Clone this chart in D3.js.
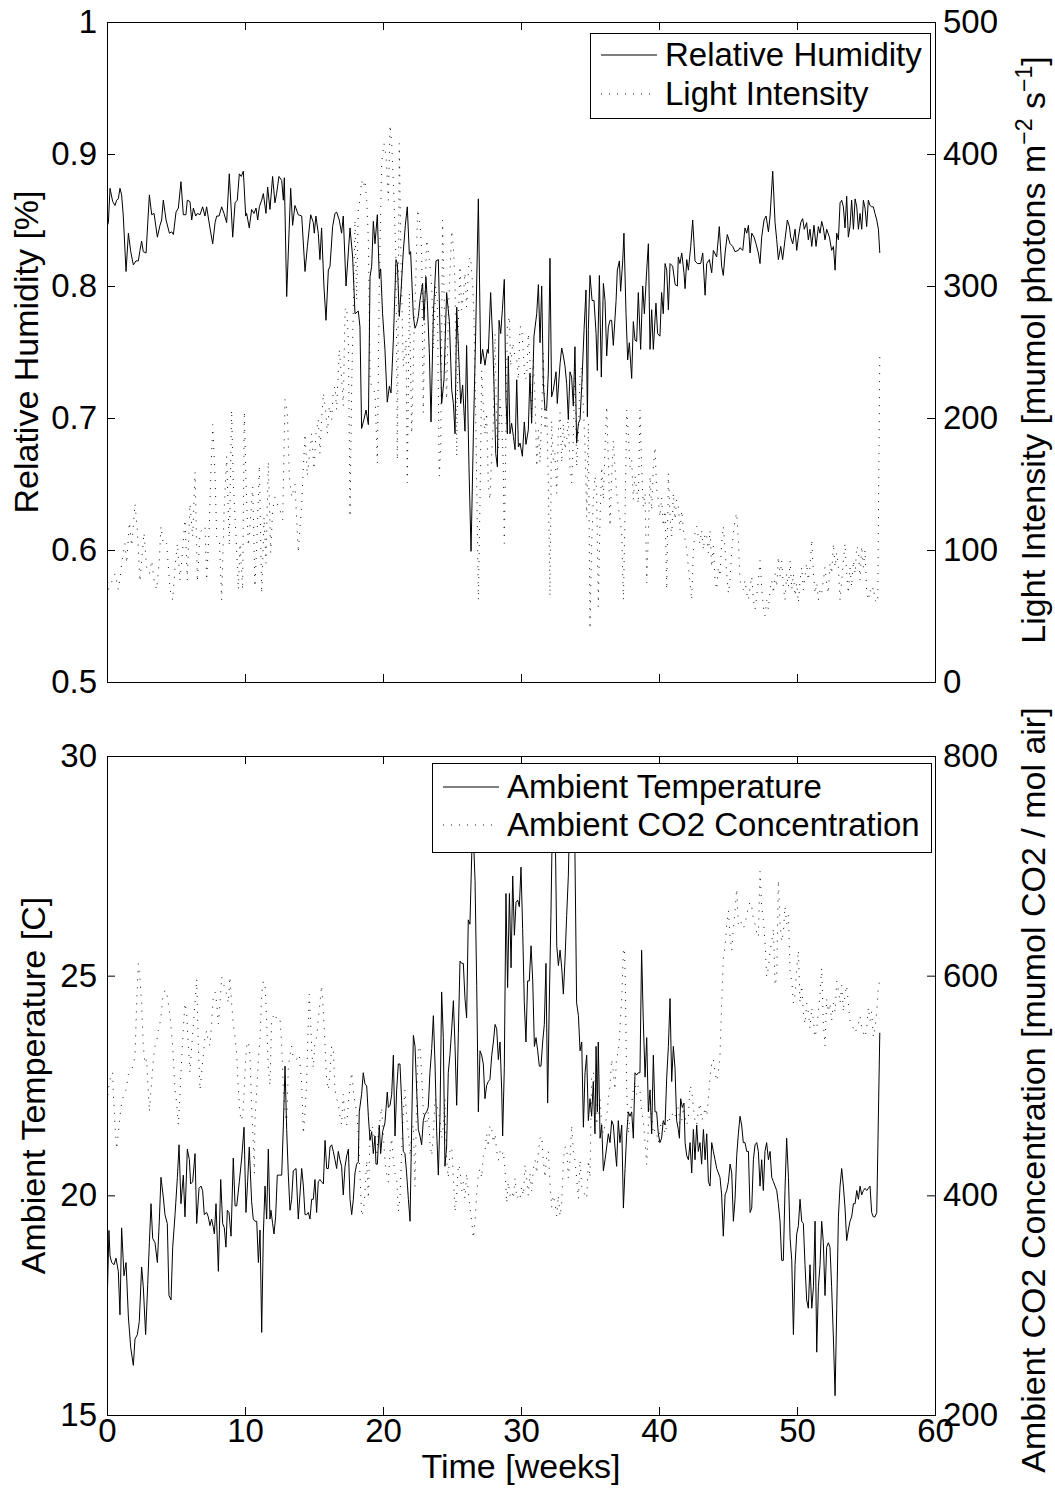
<!DOCTYPE html>
<html>
<head>
<meta charset="utf-8">
<script src="https://cdn.jsdelivr.net/npm/d3@7"></script>
<style>
  body { margin: 0; background: #fff; }
</style>
</head>
<body>
<script>
// values: [week, value]
const humidity = [
[0,0.845],[0.1,0.848],[0.22,0.874],[0.41,0.864],[0.58,0.861],[0.7,0.865],[0.82,0.866],[0.94,0.874],[1.06,0.869],[1.18,0.853],[1.38,0.811],[1.55,0.84],[1.72,0.826],[1.91,0.816],[2.1,0.819],[2.27,0.819],[2.39,0.827],[2.51,0.834],[2.63,0.826],[2.83,0.825],[3.07,0.869],[3.24,0.854],[3.41,0.855],[3.65,0.837],[3.84,0.846],[3.96,0.85],[4.08,0.865],[4.28,0.85],[4.52,0.84],[4.69,0.841],[4.81,0.839],[5,0.856],[5.17,0.859],[5.36,0.879],[5.53,0.854],[5.72,0.854],[5.82,0.865],[6.01,0.864],[6.14,0.85],[6.26,0.859],[6.43,0.853],[6.55,0.855],[6.74,0.854],[6.93,0.86],[7.1,0.853],[7.22,0.86],[7.46,0.844],[7.66,0.832],[7.83,0.848],[7.95,0.853],[8.12,0.853],[8.31,0.86],[8.48,0.855],[8.67,0.848],[8.86,0.885],[9.11,0.837],[9.28,0.863],[9.44,0.865],[9.59,0.885],[9.73,0.883],[9.88,0.887],[10.05,0.853],[10.12,0.855],[10.31,0.844],[10.48,0.858],[10.65,0.855],[10.8,0.859],[10.92,0.85],[11.04,0.86],[11.21,0.865],[11.33,0.87],[11.52,0.855],[11.64,0.875],[11.81,0.858],[12,0.883],[12.17,0.863],[12.29,0.87],[12.46,0.883],[12.66,0.88],[12.78,0.865],[12.85,0.882],[13.02,0.792],[13.31,0.874],[13.45,0.846],[13.62,0.861],[13.86,0.854],
[14.11,0.853],[14.35,0.811],[14.52,0.83],[14.76,0.854],[14.95,0.848],[15.02,0.84],[15.14,0.853],[15.31,0.84],[15.43,0.82],[15.55,0.844],[15.72,0.8],[15.87,0.774],[16.04,0.812],[16.16,0.815],[16.35,0.845],[16.52,0.855],[16.64,0.856],[16.83,0.85],[17,0.84],[17.12,0.853],[17.32,0.8],[17.61,0.844],[17.8,0.822],[17.97,0.779],[18.21,0.781],[18.33,0.769],[18.45,0.692],[18.62,0.699],[18.77,0.706],[18.94,0.695],[19.06,0.807],[19.18,0.815],[19.3,0.849],[19.42,0.832],[19.59,0.854],[19.73,0.806],[19.83,0.813],[19.97,0.779],[20.14,0.752],[20.31,0.712],[20.46,0.724],[20.58,0.719],[20.75,0.759],[20.94,0.82],[21.04,0.817],[21.18,0.777],[21.3,0.795],[21.47,0.826],[21.62,0.846],[21.76,0.86],[21.91,0.824],[22,0.826],[22.2,0.777],[22.32,0.768],[22.44,0.771],[22.56,0.777],[22.68,0.789],[22.87,0.802],[22.97,0.774],[23.11,0.807],[23.21,0.789],[23.36,0.749],[23.48,0.697],[23.65,0.779],[23.84,0.819],[24.01,0.82],[24.13,0.767],[24.25,0.711],[24.42,0.729],[24.61,0.795],[24.81,0.773],[24.98,0.721],[25.1,0.711],[25.22,0.688],[25.34,0.784],[25.46,0.754],[25.63,0.711],[25.77,0.725],[25.94,0.69],[26.06,0.755],[26.23,0.663],[26.38,0.599],[26.55,0.688],[26.71,0.762],[26.91,0.866],[27.08,0.741],[27.22,0.752],[27.39,0.74],[27.56,0.752],
[27.63,0.749],[27.8,0.795],[27.95,0.759],[28.04,0.726],[28.17,0.673],[28.29,0.663],[28.41,0.774],[28.53,0.764],[28.65,0.782],[28.79,0.805],[28.91,0.714],[29.01,0.688],[29.08,0.747],[29.2,0.688],[29.32,0.696],[29.45,0.686],[29.57,0.676],[29.69,0.729],[29.81,0.678],[29.93,0.681],[30.1,0.671],[30.24,0.697],[30.36,0.68],[30.53,0.691],[30.65,0.734],[30.77,0.696],[30.94,0.762],[31.14,0.779],[31.26,0.801],[31.38,0.757],[31.5,0.8],[31.62,0.726],[31.74,0.706],[31.86,0.707],[31.98,0.734],[32.1,0.821],[32.22,0.716],[32.34,0.721],[32.54,0.735],[32.63,0.711],[32.83,0.741],[32.95,0.753],[33.07,0.747],[33.19,0.739],[33.31,0.726],[33.43,0.699],[33.55,0.735],[33.67,0.731],[33.79,0.709],[33.91,0.754],[34.03,0.681],[34.16,0.696],[34.28,0.699],[34.4,0.724],[34.57,0.767],[34.71,0.797],[34.81,0.701],[34.88,0.767],[35,0.808],[35.15,0.789],[35.29,0.789],[35.44,0.764],[35.53,0.736],[35.68,0.808],[35.82,0.731],[35.97,0.802],[36.09,0.789],[36.21,0.747],[36.33,0.769],[36.45,0.774],[36.57,0.774],[36.69,0.755],[36.89,0.789],[36.98,0.812],[37.13,0.819],[37.22,0.796],[37.37,0.819],[37.46,0.84],[37.61,0.779],[37.73,0.744],[37.85,0.757],[38.02,0.73],[38.14,0.773],[38.26,0.759],[38.38,0.758],[38.5,0.795],[38.67,0.752],[38.82,0.8],[38.94,0.779],[39.11,0.812],[39.23,0.832],[39.35,0.752],[39.47,0.782],[39.59,0.752],[39.78,0.787],[39.9,0.764],[40.07,0.762],[40.19,0.795],[40.31,0.779],[40.44,0.817],[40.56,0.812],[40.68,0.782],[40.8,0.817],[40.99,0.815],[41.17,0.801],[41.33,0.8],
[41.4,0.822],[41.52,0.817],[41.65,0.825],[41.81,0.81],[41.89,0.798],[42.01,0.82],[42.13,0.812],[42.3,0.83],[42.44,0.85],[42.61,0.819],[42.78,0.817],[43.02,0.817],[43.17,0.825],[43.34,0.793],[43.46,0.817],[43.65,0.82],[43.82,0.81],[43.94,0.827],[44.18,0.822],[44.37,0.845],[44.54,0.815],[44.66,0.808],[44.79,0.825],[44.95,0.839],[45.15,0.832],[45.34,0.83],[45.51,0.826],[45.75,0.827],[45.87,0.829],[46.07,0.827],[46.23,0.844],[46.36,0.84],[46.48,0.846],[46.6,0.825],[46.72,0.84],[46.89,0.837],[47.03,0.832],[47.2,0.825],[47.32,0.817],[47.44,0.837],[47.61,0.85],[47.76,0.853],[47.93,0.841],[48.05,0.853],[48.24,0.887],[48.41,0.848],[48.53,0.835],[48.65,0.82],[48.82,0.83],[48.96,0.82],[49.13,0.835],[49.3,0.85],[49.45,0.845],[49.54,0.837],[49.69,0.832],[49.86,0.843],[49.98,0.827],[50.1,0.837],[50.27,0.848],[50.41,0.851],[50.53,0.843],[50.7,0.848],[50.82,0.835],[50.94,0.843],[51.07,0.83],[51.23,0.846],[51.38,0.83],[51.55,0.845],[51.67,0.84],[51.79,0.849],[51.91,0.844],[52.03,0.835],[52.15,0.843],[52.35,0.837],[52.51,0.827],[52.64,0.83],[52.76,0.812],[52.88,0.84],[53,0.835],[53.12,0.863],[53.24,0.865],[53.36,0.86],[53.48,0.844],[53.6,0.868],[53.72,0.837],[53.84,0.845],[53.96,0.865],[54.09,0.843],[54.21,0.866],[54.33,0.86],[54.45,0.843],[54.57,0.855],[54.69,0.843],[54.81,0.865],[54.93,0.859],[55.05,0.845],[55.17,0.865],[55.29,0.861],[55.41,0.86],[55.53,0.86],[55.65,0.855],[55.78,0.85],[55.9,0.843],[56,0.825]
];

const light = [
[0,82],[0.1,70],[0.34,76],[0.58,82],[0.82,70],[0.99,82],[1.06,90],[1.3,105],[1.43,90],[1.62,121],[1.79,103],[2.03,135],[2.2,115],[2.39,76],[2.51,92],[2.68,113],[2.87,87],[3.07,82],[3.24,92],[3.41,77],[3.6,70],[3.79,92],[3.91,118],[4.08,104],[4.32,105],[4.57,70],[4.76,62],[4.93,87],[5.1,105],[5.29,77],[5.48,100],[5.65,123],[5.82,77],[6.01,135],[6.21,110],[6.38,159],[6.55,76],[6.74,113],[6.86,115],[7.1,118],[7.22,77],[7.42,120],[7.51,153],[7.66,195],[7.83,156],[7.95,110],[8.14,108],[8.31,62],[8.48,128],[8.67,171],[8.86,103],[9.03,206],[9.15,151],[9.35,110],[9.52,70],[9.64,105],[9.83,70],[9.95,205],[10.07,153],[10.24,103],[10.36,118],[10.56,148],[10.72,72],[10.85,103],[11.04,164],[11.21,67],[11.38,125],[11.52,90],[11.69,167],[11.86,98],[12,130],[12.17,140],[12.34,135],[12.54,130],[12.73,123],[12.9,214],[13.07,204],[13.21,156],[13.38,140],[13.62,150],[13.86,98],
[14.11,135],[14.23,163],[14.35,188],[14.52,156],[14.66,171],[14.83,188],[15,161],[15.14,188],[15.31,199],[15.43,173],[15.55,199],[15.68,219],[15.84,206],[15.97,188],[16.11,209],[16.28,199],[16.4,221],[16.52,224],[16.64,206],[16.83,252],[17,231],[17.12,209],[17.25,282],[17.37,284],[17.49,259],[17.61,125],[17.73,224],[17.85,284],[17.97,350],[18.09,289],[18.21,358],[18.33,365],[18.45,380],[18.57,375],[18.69,380],[18.82,365],[18.94,335],[19.06,229],[19.18,224],[19.42,219],[19.59,166],[19.73,300],[19.9,393],[20.07,408],[20.22,398],[20.39,365],[20.51,422],[20.63,408],[20.8,365],[20.94,320],[21.04,168],[21.18,408],[21.3,322],[21.47,239],[21.67,259],[21.76,151],[21.91,295],[22.08,188],[22.25,264],[22.39,310],[22.51,358],[22.68,347],[22.8,327],[22.92,204],[23.04,289],[23.16,335],[23.36,320],[23.53,300],[23.65,252],[23.82,300],[23.94,289],[24.08,156],[24.18,178],[24.32,350],[24.49,264],[24.61,214],[24.73,277],[24.85,310],[24.98,342],[25.1,330],[25.22,302],[25.34,171],[25.46,272],[25.58,315],[25.7,282],[25.82,292],[25.94,310],[26.06,284],[26.23,320],[26.35,322],[26.5,300],[26.59,277],[26.74,188],[26.91,62],[27.03,138],[27.15,236],[27.27,209],[27.39,188],[27.51,204],
[27.63,150],[27.75,138],[27.88,173],[28,198],[28.12,264],[28.24,188],[28.36,176],[28.48,214],[28.6,198],[28.72,163],[28.79,105],[28.91,188],[29.01,269],[29.16,277],[29.25,239],[29.4,257],[29.57,246],[29.69,244],[29.81,229],[29.93,269],[30.05,269],[30.17,249],[30.29,229],[30.41,231],[30.53,264],[30.65,244],[30.77,198],[30.89,244],[31.02,214],[31.14,163],[31.26,191],[31.38,166],[31.5,204],[31.62,249],[31.74,191],[31.86,209],[31.98,151],[32.1,65],[32.22,198],[32.34,168],[32.46,173],[32.59,143],[32.71,191],[32.83,204],[32.95,166],[33.07,196],[33.19,176],[33.31,183],[33.43,201],[33.55,163],[33.67,151],[33.79,183],[33.91,241],[34.03,163],[34.16,188],[34.28,234],[34.4,239],[34.52,209],[34.64,178],[34.76,125],[34.88,196],[35,40],[35.12,105],[35.24,138],[35.36,156],[35.48,146],[35.6,57],[35.73,125],[35.85,163],[35.97,138],[36.09,178],[36.21,209],[36.33,168],[36.45,118],[36.57,156],[36.69,183],[36.81,163],[36.93,143],[37.05,133],[37.17,123],[37.3,113],[37.42,62],[37.54,128],[37.66,206],[37.78,188],[37.9,163],[38.02,168],[38.14,138],[38.26,156],[38.38,146],[38.5,135],[38.62,206],[38.74,163],[38.86,133],[38.99,143],[39.11,75],[39.23,113],[39.35,156],[39.47,130],[39.59,163],[39.71,178],[39.83,146],[39.95,138],[40.07,125],[40.19,140],[40.31,118],[40.44,130],[40.56,70],[40.68,158],[40.8,125],[40.92,110],[41.04,143],[41.16,123],[41.28,138],
[41.4,133],[41.52,115],[41.65,130],[41.77,115],[41.89,108],[42.01,100],[42.13,87],[42.25,75],[42.37,62],[42.49,100],[42.61,113],[42.73,118],[42.85,110],[42.97,105],[43.09,115],[43.22,100],[43.34,113],[43.46,110],[43.58,98],[43.7,115],[43.82,87],[43.94,103],[44.06,77],[44.18,70],[44.3,87],[44.42,80],[44.54,105],[44.66,118],[44.79,100],[44.91,82],[45.03,67],[45.15,77],[45.27,100],[45.39,113],[45.51,123],[45.63,128],[45.75,108],[45.87,77],[45.99,72],[46.11,70],[46.23,77],[46.36,67],[46.48,62],[46.6,72],[46.72,80],[46.84,62],[46.96,55],[47.08,65],[47.2,77],[47.32,92],[47.44,72],[47.56,57],[47.68,50],[47.8,62],[47.93,55],[48.05,70],[48.17,77],[48.29,67],[48.41,82],[48.53,72],[48.65,95],[48.77,80],[48.89,92],[49.01,72],[49.13,62],[49.25,82],[49.38,72],[49.5,92],[49.62,70],[49.74,82],[49.86,65],[49.98,75],[50.1,60],[50.22,77],[50.34,87],[50.46,70],[50.58,80],[50.7,90],[50.82,77],[50.94,87],[51.07,108],[51.19,82],[51.31,67],[51.43,75],[51.55,62],[51.67,70],[51.79,67],[51.91,77],[52.03,87],[52.15,75],[52.27,67],[52.39,90],[52.51,82],[52.64,105],[52.76,87],[52.88,98],[53,87],[53.12,62],[53.24,77],[53.36,92],[53.48,105],[53.6,82],[53.72,67],[53.84,87],[53.96,72],[54.09,92],[54.21,82],[54.33,103],[54.45,100],[54.57,77],[54.69,103],[54.81,87],[54.93,100],[55.05,67],[55.17,62],[55.29,70],[55.41,67],[55.53,72],[55.65,62],[55.85,60],[56,248]
];

const temperature = [
[0,17.4],[0.14,19.2],[0.22,18.62],[0.34,18.47],[0.51,18.42],[0.65,18.57],[0.82,18.27],[0.94,17.28],[1.06,19.26],[1.23,18.17],[1.38,18.47],[1.55,17.23],[1.72,16.53],[1.91,16.13],[2.03,16.73],[2.2,16.83],[2.34,17.13],[2.51,18.37],[2.63,17.92],[2.8,16.83],[2.95,17.97],[3.07,18.92],[3.19,19.81],[3.31,19.02],[3.48,18.92],[3.65,18.47],[3.79,19.41],[3.91,20.41],[4.08,19.96],[4.2,19.56],[4.37,19.36],[4.49,17.72],[4.64,17.62],[4.76,18.82],[4.93,19.56],[5.1,20.41],[5.22,21.15],[5.36,19.81],[5.53,20.46],[5.65,19.51],[5.82,21.05],[5.97,20.81],[6.06,20.26],[6.21,20.31],[6.38,20.95],[6.5,19.36],[6.67,20.16],[6.81,20.21],[6.93,20.11],[7.05,19.56],[7.22,19.61],[7.34,19.51],[7.46,19.31],[7.58,19.46],[7.71,19.26],[7.78,19.12],[7.9,19.81],[8.07,18.27],[8.24,20.36],[8.38,19.36],[8.5,19.26],[8.62,18.82],[8.72,19.66],[8.84,19.61],[8.99,19.07],[9.15,20.85],[9.28,19.76],[9.4,19.76],[9.59,20.31],[9.76,20.85],[9.93,21.55],[10.07,19.61],[10.19,20.31],[10.31,21.1],[10.48,19.86],[10.6,19.46],[10.72,19.41],[10.85,19.41],[10.97,18.47],[11.09,19.21],[11.21,16.88],[11.33,19.12],[11.45,20.21],[11.57,19.46],[11.69,21.05],[11.81,19.46],[11.88,19.66],[12,19.36],[12.1,19.12],[12.22,19.51],[12.34,20.46],[12.49,20.46],[12.66,20.46],[12.78,21.6],[12.9,22.94],[13.02,21.5],[13.14,20.46],[13.26,19.66],[13.38,19.91],[13.5,20.56],[13.7,20.61],[13.86,19.46],
[14.11,20.61],[14.23,20.21],[14.35,19.56],[14.47,19.56],[14.59,19.61],[14.71,19.46],[14.83,19.91],[14.95,19.91],[15.07,20.36],[15.19,19.61],[15.31,20.31],[15.43,20.36],[15.55,20.31],[15.68,20.26],[15.8,21.25],[15.92,20.61],[16.04,20.61],[16.16,21.1],[16.28,21.15],[16.4,21],[16.52,20.81],[16.64,20.61],[16.76,21],[16.88,20.81],[17,20.66],[17.12,20.01],[17.25,20.66],[17.37,20.9],[17.49,21.05],[17.61,19.91],[17.73,19.56],[17.85,19.91],[17.97,20.51],[18.09,20.71],[18.21,20.76],[18.28,21.9],[18.45,22.3],[18.57,22.79],[18.69,22.54],[18.82,22.49],[18.94,21.8],[19.06,21.25],[19.18,21.45],[19.3,20.95],[19.42,21.35],[19.49,20.71],[19.59,20.71],[19.73,21.6],[19.83,20.95],[19.97,21.45],[20.14,21.65],[20.31,22.35],[20.39,22],[20.51,22.05],[20.63,22.3],[20.75,23.19],[20.87,21.35],[20.99,22.4],[21.11,22.99],[21.23,22.99],[21.35,22.15],[21.47,21],[21.59,20.95],[21.71,20.51],[21.84,19.91],[21.96,19.41],[22.08,21.6],[22.2,23.64],[22.32,23.39],[22.44,22.4],[22.56,21.5],[22.68,21.35],[22.8,21.15],[22.92,21.7],[23.04,21.85],[23.16,21.9],[23.28,22],[23.4,22.79],[23.53,23.34],[23.65,24.09],[23.77,22.99],[23.89,21.45],[24.01,20.46],[24.13,21.8],[24.25,24.63],[24.37,23.59],[24.49,20.66],[24.61,21.1],[24.73,22.79],[24.85,23.19],[24.98,23.79],[25.1,24.43],[25.22,23.39],[25.34,22.05],[25.46,23.69],[25.58,25.33],[25.7,25.28],[25.82,25.28],[25.94,24.48],[26.06,24.04],[26.18,26.27],[26.3,26.17],[26.5,28.6],[26.67,27.17],[26.79,24.78],[26.91,21.9],[27.03,23.29],[27.15,23.19],[27.27,22.99],[27.39,22.2],[27.51,22.5],
[27.63,22.59],[27.75,22.64],[27.88,23.19],[28,23.49],[28.12,23.89],[28.24,23.79],[28.36,23.09],[28.48,23.49],[28.6,22.4],[28.67,21.35],[28.79,22.89],[28.91,26.87],[29.03,24.73],[29.16,26.87],[29.28,25.18],[29.4,27.27],[29.52,25.92],[29.64,26.67],[29.76,26.72],[29.88,26.57],[30,27.47],[30.12,26.07],[30.24,24.38],[30.36,23.49],[30.48,24.88],[30.6,24.88],[30.73,25.68],[30.85,24.88],[30.97,23.39],[31.09,23.59],[31.21,23.29],[31.33,22.94],[31.45,22.94],[31.57,23.49],[31.69,23.89],[31.81,25.28],[31.93,22.1],[32.05,24.38],[32.17,26.37],[32.3,29.1],[32.46,28.9],[32.59,25.68],[32.71,25.23],[32.83,25.58],[32.95,25.18],[33.07,24.58],[33.19,25.38],[33.31,26.37],[33.43,27.27],[33.55,29],[33.79,29.2],[33.91,27.76],[34.03,24.38],[34.16,24.09],[34.28,23.29],[34.4,23.49],[34.52,21.55],[34.64,22.79],[34.76,23.19],[34.88,21.7],[35,22.2],[35.12,21.8],[35.24,22.59],[35.36,21.4],[35.44,23.39],[35.53,21.9],[35.6,23.49],[35.73,21.3],[35.85,21.6],[35.97,20.56],[36.09,20.81],[36.21,21.1],[36.33,21.4],[36.45,21.2],[36.57,21.7],[36.69,21.6],[36.81,21.1],[36.93,20.66],[37.05,21.7],[37.17,21.2],[37.3,21.6],[37.42,19.71],[37.54,20.61],[37.66,21.4],[37.78,21.9],[37.9,21.8],[38.02,21.9],[38.14,21.3],[38.26,22.79],[38.38,22.74],[38.5,22.79],[38.62,22.79],[38.74,25.58],[38.86,23.99],[38.99,22.69],[39.11,23.59],[39.23,21.9],[39.35,22.4],[39.47,21.4],[39.59,23.19],[39.71,21.9],[39.83,21.9],[39.95,21.4],[40.07,21.2],[40.19,21.3],[40.31,21.7],[40.44,21.6],[40.56,22.69],[40.68,23.39],[40.8,24.48],[40.92,22.59],[41.04,23.39],[41.16,22.89],[41.28,21.7],[41.4,21.5],
[41.48,21.3],[41.57,22.2],[41.69,22],[41.81,22.1],[41.89,21.2],[42.01,20.9],[42.13,20.81],[42.25,21.2],[42.37,20.51],[42.49,21.5],[42.61,20.81],[42.73,21.6],[42.85,21],[42.97,21.2],[43.09,20.71],[43.22,21.5],[43.34,20.81],[43.46,21.4],[43.58,20.31],[43.7,20.21],[43.82,21.2],[43.94,21],[44.06,20.81],[44.18,20.61],[44.3,20.51],[44.42,20.41],[44.54,20.01],[44.66,19.07],[44.79,20.01],[44.91,20.11],[45.03,20.31],[45.15,20.71],[45.27,20.51],[45.39,19.41],[45.51,19.91],[45.63,20.9],[45.75,21.4],[45.87,21.8],[45.99,21.6],[46.11,21.2],[46.23,21.2],[46.36,21],[46.48,21],[46.6,19.61],[46.72,19.71],[46.84,20.81],[46.96,21.15],[47.08,21.2],[47.2,21],[47.32,20.21],[47.44,20.81],[47.56,20.11],[47.68,21],[47.8,21.2],[47.93,20.81],[48.05,21],[48.17,20.41],[48.29,20.31],[48.41,20.21],[48.53,20.11],[48.65,19.81],[48.77,19.41],[48.89,18.52],[49.01,18.52],[49.13,20.11],[49.25,21.3],[49.38,20.41],[49.5,19.02],[49.62,18.52],[49.74,16.83],[49.86,18.42],[49.98,19.12],[50.1,19.31],[50.22,19.91],[50.34,19.41],[50.46,19.36],[50.58,18.42],[50.7,17.62],[50.82,17.43],[50.94,18.42],[51.07,17.43],[51.19,17.92],[51.31,19.41],[51.43,16.43],[51.55,17.92],[51.67,18.42],[51.79,19.41],[51.91,18.92],[52.03,17.72],[52.15,18.82],[52.27,18.92],[52.39,18.82],[52.51,17.92],[52.64,16.73],[52.76,15.44],[52.88,17.43],[53,19.51],[53.12,20.21],[53.24,20.61],[53.36,20.21],[53.48,19.71],[53.6,18.97],[53.72,19.21],[53.84,19.41],[53.96,19.51],[54.09,19.81],[54.21,19.81],[54.33,20.11],[54.45,19.91],[54.57,20.21],[54.69,20.01],[54.81,20.11],[54.93,20.16],[55.05,20.11],[55.29,20.21],[55.41,19.61],[55.53,19.51],[55.65,19.51],[55.78,19.61],[56,23.7]
];

const co2 = [
[0,484],[0.17,504],[0.29,508],[0.41,512],[0.46,492],[0.58,464],[0.7,442],[0.82,456],[0.94,472],[1.06,484],[1.23,492],[1.38,496],[1.55,510],[1.72,514],[1.91,518],[2.03,528],[2.15,575],[2.27,611],[2.39,597],[2.51,575],[2.63,536],[2.75,520],[2.87,524],[3.07,476],[3.16,492],[3.24,504],[3.36,524],[3.48,536],[3.6,540],[3.72,550],[3.89,560],[4.03,579],[4.2,587],[4.32,585],[4.44,575],[4.57,563],[4.76,536],[4.93,496],[5.05,484],[5.17,464],[5.29,492],[5.41,524],[5.53,552],[5.65,575],[5.77,567],[5.89,536],[6.01,512],[6.14,536],[6.26,556],[6.38,575],[6.5,597],[6.62,536],[6.74,496],[6.86,512],[6.98,528],[7.1,544],[7.22,550],[7.34,540],[7.46,536],[7.58,556],[7.71,583],[7.83,585],[7.95,575],[8.07,556],[8.19,575],[8.31,599],[8.48,591],[8.67,583],[8.79,575],[8.91,599],[9.03,575],[9.15,556],[9.28,544],[9.4,528],[9.52,496],[9.64,474],[9.76,468],[9.88,480],[10,512],[10.12,536],[10.24,540],[10.36,528],[10.48,480],[10.6,448],[10.68,420],[10.72,468],[10.85,496],[10.97,524],[11.09,544],[11.21,583],[11.33,595],[11.45,593],[11.57,559],[11.69,516],[11.81,500],[11.93,559],[12.05,563],[12.17,559],[12.29,563],[12.54,561],[12.66,536],[12.78,496],[12.9,476],[13.02,464],[13.14,516],[13.26,528],[13.38,536],[13.5,524],[13.74,524],[13.94,528],
[14.11,500],[14.23,456],[14.35,476],[14.47,504],[14.59,560],[14.66,583],[14.76,556],[14.85,528],[14.95,516],[15.07,540],[15.19,544],[15.31,560],[15.43,575],[15.55,591],[15.68,567],[15.8,536],[15.92,504],[16.04,496],[16.16,512],[16.28,536],[16.4,532],[16.52,496],[16.64,488],[16.76,484],[16.88,472],[17,464],[17.12,492],[17.25,468],[17.37,464],[17.49,484],[17.61,500],[17.73,512],[17.85,496],[17.97,484],[18.09,476],[18.21,456],[18.33,420],[18.45,381],[18.57,385],[18.69,401],[18.82,432],[18.94,397],[19.06,456],[19.18,464],[19.3,460],[19.42,444],[19.54,436],[19.66,456],[19.78,468],[19.9,480],[20.02,456],[20.14,432],[20.26,420],[20.39,412],[20.51,440],[20.63,452],[20.75,432],[20.87,420],[20.99,416],[21.11,385],[21.23,397],[21.35,440],[21.47,476],[21.59,496],[21.71,472],[21.84,456],[21.96,436],[22.08,456],[22.2,464],[22.32,408],[22.44,488],[22.56,532],[22.68,536],[22.8,512],[22.92,476],[23.04,468],[23.16,464],[23.28,476],[23.4,448],[23.53,436],[23.65,456],[23.77,488],[23.89,484],[24.01,476],[24.13,468],[24.25,452],[24.37,464],[24.49,488],[24.61,432],[24.73,416],[24.85,440],[24.98,444],[25.1,416],[25.22,385],[25.34,401],[25.46,428],[25.58,424],[25.7,404],[25.82,412],[25.94,397],[26.06,420],[26.18,404],[26.3,389],[26.42,377],[26.55,361],[26.67,377],[26.79,401],[26.91,420],[27.03,424],[27.15,416],[27.27,436],[27.39,440],[27.51,456],
[27.63,444],[27.75,464],[27.88,460],[28,448],[28.12,456],[28.24,440],[28.36,432],[28.48,440],[28.6,436],[28.72,440],[28.84,424],[28.96,393],[29.08,412],[29.2,400],[29.32,404],[29.45,397],[29.57,416],[29.69,397],[29.81,400],[29.93,397],[30.05,408],[30.17,400],[30.29,428],[30.41,416],[30.53,400],[30.65,420],[30.77,404],[30.89,424],[31.02,432],[31.14,420],[31.26,440],[31.38,452],[31.5,454],[31.62,432],[31.74,416],[31.86,436],[31.98,440],[32.1,412],[32.22,389],[32.34,400],[32.46,393],[32.59,381],[32.71,400],[32.83,381],[32.95,393],[33.07,432],[33.19,444],[33.31,444],[33.43,416],[33.55,432],[33.67,464],[33.79,440],[33.91,432],[34.03,416],[34.16,397],[34.28,432],[34.4,408],[34.52,404],[34.64,400],[34.76,397],[34.88,432],[35,416],[35.12,508],[35.24,512],[35.36,504],[35.48,464],[35.6,476],[35.73,488],[35.85,464],[35.97,456],[36.09,464],[36.21,472],[36.33,488],[36.45,500],[36.57,524],[36.69,512],[36.81,496],[36.93,528],[37.05,528],[37.17,552],[37.3,579],[37.42,623],[37.49,625],[37.56,595],[37.66,496],[37.78,456],[37.9,472],[38.02,484],[38.14,496],[38.26,504],[38.38,492],[38.5,500],[38.62,496],[38.74,476],[38.86,468],[38.99,448],[39.11,428],[39.23,464],[39.35,480],[39.47,472],[39.59,456],[39.71,460],[39.83,456],[39.95,448],[40.07,460],[40.19,468],[40.31,464],[40.44,456],[40.56,464],[40.68,472],[40.8,468],[40.92,472],[41.04,476],[41.16,472],[41.28,476],
[41.4,480],[41.52,464],[41.65,468],[41.77,480],[41.89,472],[42.01,464],[42.13,472],[42.25,500],[42.37,496],[42.49,480],[42.61,468],[42.73,464],[42.85,476],[42.97,484],[43.09,468],[43.22,472],[43.34,480],[43.46,472],[43.58,488],[43.7,508],[43.82,520],[43.94,524],[44.06,512],[44.18,504],[44.3,512],[44.42,528],[44.54,575],[44.66,615],[44.79,627],[44.91,647],[45.03,659],[45.15,635],[45.27,623],[45.39,643],[45.51,659],[45.63,679],[45.75,647],[45.87,651],[45.99,647],[46.11,643],[46.23,647],[46.36,655],[46.48,663],[46.6,667],[46.72,663],[46.84,651],[46.96,647],[47.08,639],[47.2,635],[47.32,695],[47.44,663],[47.56,651],[47.68,631],[47.8,599],[47.93,607],[48.05,623],[48.17,631],[48.29,643],[48.41,591],[48.53,599],[48.65,687],[48.77,647],[48.89,631],[49.01,639],[49.13,663],[49.25,647],[49.38,655],[49.5,603],[49.62,595],[49.74,575],[49.86,583],[49.98,607],[50.1,623],[50.22,575],[50.34,591],[50.46,567],[50.58,556],[50.7,575],[50.82,567],[50.94,552],[51.07,571],[51.19,559],[51.31,544],[51.43,552],[51.55,567],[51.67,583],[51.79,607],[51.91,556],[52.03,536],[52.15,579],[52.27,567],[52.39,575],[52.51,559],[52.64,575],[52.76,567],[52.88,595],[53,587],[53.12,575],[53.24,591],[53.36,567],[53.48,583],[53.6,591],[53.72,575],[53.84,559],[53.96,556],[54.09,552],[54.21,548],[54.33,552],[54.45,556],[54.57,563],[54.69,552],[54.81,548],[54.93,544],[55.05,552],[55.17,571],[55.29,559],[55.41,567],[55.53,544],[55.65,552],[55.78,567],[55.9,591],[56,595]
];

const weekTicks = [0, 10, 20, 30, 40, 50, 60];
const humidityTicks = [0.5, 0.6, 0.7, 0.8, 0.9, 1];
const lightTicks = [0, 100, 200, 300, 400, 500];
const temperatureTicks = [15, 20, 25, 30];
const co2Ticks = [200, 400, 600, 800];

const FONT = '"Liberation Sans", Arial, Helvetica, sans-serif';
const width = 1055, height = 1490;
const left = 107, right = 935;

const svg = d3.select("body").append("svg")
    .attr("width", width)
    .attr("height", height)
    .style("display", "block")
    .attr("font-family", FONT);

svg.append("rect").attr("width", width).attr("height", height).attr("fill", "#fff");

const x = d3.scaleLinear().domain([0, 60]).range([left, right]);

function styleAxis(g, size) {
  g.attr("font-family", FONT);
  g.select(".domain").remove();
  g.selectAll("line").attr("stroke", "#000");
  g.selectAll("text").attr("font-size", size).attr("fill", "#000");
}

function drawPanel(p) {
  const yL = d3.scaleLinear().domain(p.leftDomain).range([p.bottom, p.top]);
  const yR = d3.scaleLinear().domain(p.rightDomain).range([p.bottom, p.top]);

  const clipId = "clip-" + p.id;
  svg.append("clipPath").attr("id", clipId)
    .append("rect").attr("x", left).attr("y", p.top)
    .attr("width", right - left).attr("height", p.bottom - p.top);

  const plot = svg.append("g").attr("clip-path", "url(#" + clipId + ")");

  plot.append("path")
    .datum(p.dotted)
    .attr("d", d3.line().x(d => x(d[0])).y(d => yR(d[1])))
    .attr("fill", "none")
    .attr("stroke", "#111")
    .attr("stroke-width", 1)
    .attr("stroke-dasharray", "1,7");

  plot.append("path")
    .datum(p.solid)
    .attr("d", d3.line().x(d => x(d[0])).y(d => yL(d[1])))
    .attr("fill", "none")
    .attr("stroke", "#000")
    .attr("stroke-width", 1);

  // x ticks, bottom and top, pointing inwards
  const xb = svg.append("g").attr("transform", `translate(0,${p.bottom})`)
    .call(d3.axisBottom(x).tickValues(weekTicks).tickSize(-8).tickSizeOuter(0).tickPadding(4)
      .tickFormat(p.xLabels ? d3.format("d") : ""));
  styleAxis(xb, 33);
  const xt = svg.append("g").attr("transform", `translate(0,${p.top})`)
    .call(d3.axisTop(x).tickValues(weekTicks).tickSize(-8).tickSizeOuter(0).tickFormat(""));
  styleAxis(xt, 33);

  const ly = svg.append("g").attr("transform", `translate(${left},0)`)
    .call(d3.axisLeft(yL).tickValues(p.leftTicks).tickSize(-8).tickSizeOuter(0).tickPadding(10)
      .tickFormat(d3.format("~g")));
  styleAxis(ly, 33);

  const ry = svg.append("g").attr("transform", `translate(${right},0)`)
    .call(d3.axisRight(yR).tickValues(p.rightTicks).tickSize(-8).tickSizeOuter(0).tickPadding(8)
      .tickFormat(d3.format("d")));
  styleAxis(ry, 33);

  svg.append("rect")
    .attr("x", left + 0.5).attr("y", p.top + 0.5)
    .attr("width", right - left).attr("height", p.bottom - p.top)
    .attr("fill", "none").attr("stroke", "#000").attr("stroke-width", 1);

  const mid = (p.top + p.bottom) / 2;
  svg.append("text")
    .attr("transform", `translate(${p.leftLabelX},${mid}) rotate(-90)`)
    .attr("text-anchor", "middle")
    .attr("font-size", 34)
    .text(p.leftLabel);

  const rl = svg.append("text")
    .attr("transform", `translate(1045,${p.rightLabelY}) rotate(-90)`)
    .attr("text-anchor", "middle")
    .attr("font-size", 34)
    .style("white-space", "pre");
  p.rightLabel.forEach(part => {
    const t = rl.append("tspan").text(part.t);
    if (part.sup) t.attr("font-size", 23).attr("dy", -13);
    else if (part.after) t.attr("dy", 13);
  });

  // legend
  const lg = svg.append("g");
  lg.append("rect")
    .attr("x", p.legend.x + 0.5).attr("y", p.legend.y + 0.5)
    .attr("width", p.legend.w).attr("height", p.legend.h)
    .attr("fill", "#fff").attr("stroke", "#000").attr("stroke-width", 1);
  p.legend.items.forEach((it, i) => {
    const cy = p.legend.y + p.legend.rows[i];
    lg.append("line")
      .attr("x1", p.legend.x + 11).attr("x2", p.legend.x + 67)
      .attr("y1", cy).attr("y2", cy)
      .attr("stroke", it.dotted ? "#111" : "#000")
      .attr("stroke-width", 1)
      .attr("stroke-dasharray", it.dotted ? "1,7" : null);
    lg.append("text")
      .attr("x", p.legend.x + 75).attr("y", cy + 11)
      .attr("font-size", 33)
      .text(it.label);
  });
}

drawPanel({
  id: "top", top: 22, bottom: 682,
  leftDomain: [0.5, 1], rightDomain: [0, 500],
  leftTicks: humidityTicks, rightTicks: lightTicks,
  solid: humidity, dotted: light, xLabels: false,
  leftLabel: "Relative Humidity [%]", leftLabelX: 38,
  rightLabelY: 350,
  rightLabel: [
    {t: "Light Intensity [mumol photons m"},
    {t: "\u22122", sup: true},
    {t: " s", after: true},
    {t: "\u22121", sup: true},
    {t: "]", after: true}
  ],
  legend: {x: 590, y: 33, w: 340, h: 85, rows: [22, 61],
    items: [{label: "Relative Humidity"}, {label: "Light Intensity", dotted: true}]}
});

drawPanel({
  id: "bottom", top: 756, bottom: 1415,
  leftDomain: [15, 30], rightDomain: [200, 800],
  leftTicks: temperatureTicks, rightTicks: co2Ticks,
  solid: temperature, dotted: co2, xLabels: true,
  leftLabel: "Ambient Temperature [C]", leftLabelX: 45,
  rightLabelY: 1090,
  rightLabel: [{t: "Ambient CO2 Concentration [mumol CO2 / mol air]"}],
  legend: {x: 432, y: 763, w: 499, h: 89, rows: [24, 62],
    items: [{label: "Ambient Temperature"}, {label: "Ambient CO2 Concentration", dotted: true}]}
});

svg.append("text")
  .attr("x", (left + right) / 2)
  .attr("y", 1478)
  .attr("text-anchor", "middle")
  .attr("font-size", 34)
  .text("Time [weeks]");
</script>
</body>
</html>
